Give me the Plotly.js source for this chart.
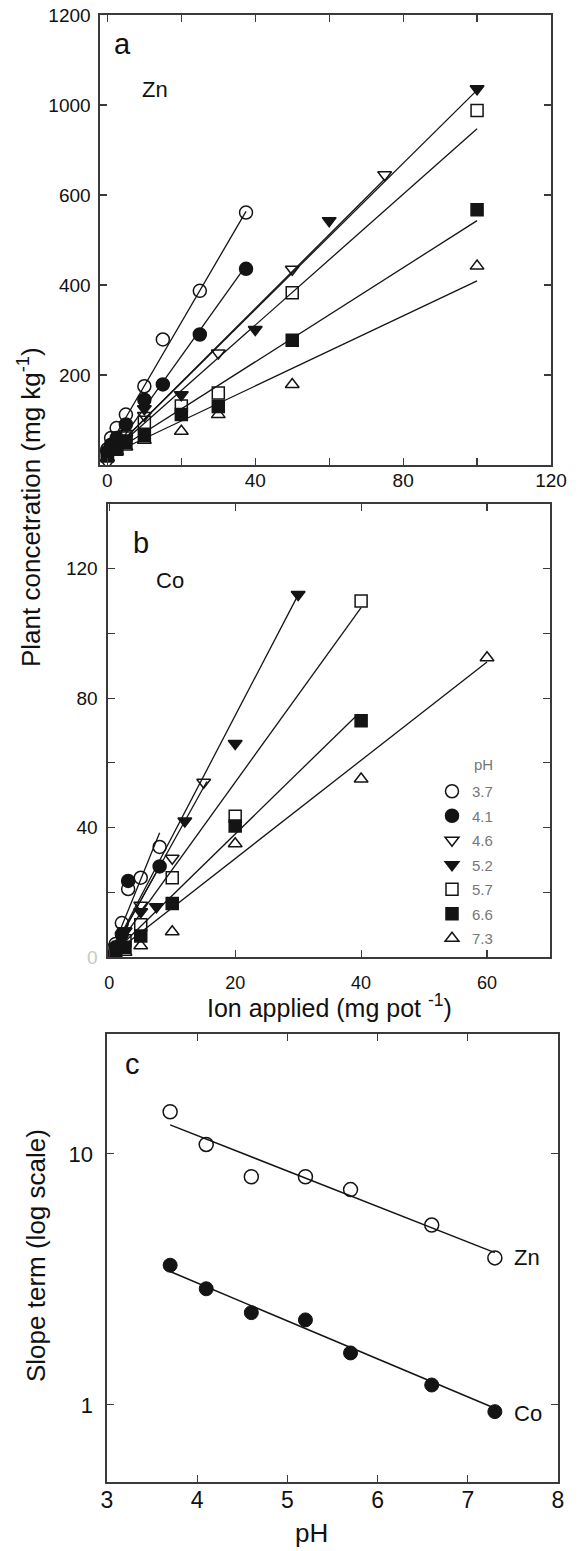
<!DOCTYPE html>
<html><head><meta charset="utf-8">
<script src="https://cdn.plot.ly/plotly-3.0.1.min.js"></script>
<style>html,body{margin:0;padding:0;background:#fff}</style>
</head><body><div id="chart" style="width:582px;height:1551px"></div>
<script>
// ---------- shared ----------
const pHLabels = ['3.7','4.1','4.6','5.2','5.7','6.6','7.3'];
const pHValues = [3.7, 4.1, 4.6, 5.2, 5.7, 6.6, 7.3];
const markerSymbols = ['circle-open','circle','triangle-down-open','triangle-down','square-open','square','triangle-up-open'];

// ---------- panel a : Zn (ion applied, plant concentration) ----------
const znX37 = [0, 1, 2.5, 5, 10, 15, 25, 37.5];
const znY37 = [35, 60, 82, 112, 175, 279, 387, 561];
const znX41 = [0, 1, 2.5, 5, 10, 15, 25, 37.5];
const znY41 = [30, 45, 60, 90, 145, 179, 290, 436];
const znX46 = [0, 2.5, 5, 10, 30, 50, 75];
const znY46 = [5, 40, 70, 110, 249, 435, 645];
const znX52 = [0, 2.5, 5, 10, 20, 40, 60, 100];
const znY52 = [25, 40, 60, 125, 156, 301, 543, 836];
const znX57 = [0, 2.5, 5, 10, 20, 30, 50, 100];
const znY57 = [25, 40, 60, 95, 131, 160, 383, 788];
const znX66 = [0, 2.5, 5, 10, 20, 30, 50, 100];
const znY66 = [20, 35, 50, 65, 112, 130, 277, 567];
const znX73 = [0, 2.5, 5, 10, 20, 30, 50, 100];
const znY73 = [15, 30, 40, 55, 75, 112, 179, 442];
// fitted lines (intercept, slope, last dose)
const znFitIntercept = [35, 12, 20, 20, 20, 20, 20];
const znFitSlope = [14.1, 11.5, 8.2, 8.13, 7.27, 5.23, 3.89];
const znFitXmax = [37.5, 37.5, 75, 100, 100, 100, 100];
const znYTickVals = [200, 400, 600, 800, 1000];
const znYTickText = ['200', '400', '600', '1000', '1200'];
const znXTickVals = [0, 40, 80, 120];
const znXMinorTicks = [20, 60, 100];

// ---------- panel b : Co ----------
const coX37 = [0, 1, 2, 3, 5, 8];
const coY37 = [0, 4, 10.5, 21, 24.5, 34];
const coX41 = [0, 1, 2, 3, 8];
const coY41 = [0, 3, 7, 23.5, 28];
const coX46 = [0, 1, 2.5, 5, 10, 15];
const coY46 = [0, 3, 8, 16, 30.5, 54];
const coX52 = [0, 1, 2.5, 5, 7.5, 12, 20, 30];
const coY52 = [0, 3, 8, 14, 15.5, 42, 66, 112];
const coX57 = [0, 1, 2.5, 5, 10, 20, 40];
const coY57 = [0, 2, 5, 10, 24.5, 43.5, 110];
const coX66 = [0, 1, 2.5, 5, 10, 20, 40];
const coY66 = [0, 1, 3, 6.5, 16.5, 40.5, 73];
const coX73 = [0, 1, 2.5, 5, 10, 20, 40, 60];
const coY73 = [0, 0.5, 1.5, 3.5, 7.8, 35, 55, 92.5];
const coFitIntercept = [0, 0, 0, 0, 0, 0, 0];
const coFitSlope = [4.8, 3.5, 3.5, 3.73, 2.7, 1.9, 1.52];
const coFitXmax = [8, 8.5, 15.5, 30, 40, 39.5, 60];
const coYTickVals = [0, 40, 80, 120];
const coYTickText = ['<span style="color:#c8c8c8">0</span>', '40', '80', '120'];
const coYMinorTicks = [20, 60, 100];
const coXTickVals = [0, 20, 40, 60];

// ---------- panel c : slope term vs pH ----------
const znSlopeTerm = [14.7, 10.9, 8.1, 8.1, 7.2, 5.2, 3.85];
const coSlopeTerm = [3.6, 2.9, 2.33, 2.18, 1.61, 1.2, 0.94];
const znLogFit = {a: 1.638, b: -0.1413};
const coLogFit = {a: 1.0904, b: -0.1512};
const pHFitRange = [3.7, 7.3];

// ---------- figure ----------
const W = 582, H = 1551;
const px = v => v / W, py = v => 1 - v / H;
const INK = '#141414', FRAME = '#3a3a3a';
const FONT = 'Liberation Sans, Arial, sans-serif';

const traces = [];
function addPoints(x, y, i, xa, ya, legend) {
  traces.push({
    type: 'scatter', mode: 'markers', x: x, y: y, xaxis: xa, yaxis: ya,
    name: pHLabels[i], legendgroup: 'g' + i, showlegend: !!legend,
    marker: {symbol: markerSymbols[i], size: markerSymbols[i].indexOf('circle') === 0 ? 13 : 12,
             color: INK, line: {color: INK, width: 1.5}},
    hoverinfo: 'x+y'
  });
}
function addFit(b, m, xmax, xa, ya) {
  traces.push({
    type: 'scatter', mode: 'lines', x: [0, xmax], y: [b, b + m * xmax],
    xaxis: xa, yaxis: ya, showlegend: false, line: {color: INK, width: 1.3}, hoverinfo: 'skip'
  });
}

const znX = [znX37, znX41, znX46, znX52, znX57, znX66, znX73];
const znY = [znY37, znY41, znY46, znY52, znY57, znY66, znY73];
const coX = [coX37, coX41, coX46, coX52, coX57, coX66, coX73];
const coY = [coY37, coY41, coY46, coY52, coY57, coY66, coY73];

for (let i = 0; i < 7; i++) addFit(znFitIntercept[i], znFitSlope[i], znFitXmax[i], 'x', 'y');
for (let i = 0; i < 7; i++) addPoints(znX[i], znY[i], i, 'x', 'y', false);
for (let i = 0; i < 7; i++) addFit(coFitIntercept[i], coFitSlope[i], coFitXmax[i], 'x2', 'y2');
for (let i = 0; i < 7; i++) addPoints(coX[i], coY[i], i, 'x2', 'y2', true);

function logLine(fit) {
  return pHFitRange.map(p => Math.pow(10, fit.a + fit.b * p));
}
traces.push({type: 'scatter', mode: 'lines', x: pHFitRange, y: logLine(znLogFit), xaxis: 'x3', yaxis: 'y3',
  showlegend: false, line: {color: INK, width: 1.5}, hoverinfo: 'skip'});
traces.push({type: 'scatter', mode: 'lines', x: pHFitRange, y: logLine(coLogFit), xaxis: 'x3', yaxis: 'y3',
  showlegend: false, line: {color: INK, width: 1.5}, hoverinfo: 'skip'});
traces.push({type: 'scatter', mode: 'markers', x: pHValues, y: znSlopeTerm, xaxis: 'x3', yaxis: 'y3',
  name: 'Zn', showlegend: false, marker: {symbol: 'circle-open', size: 14, color: INK, line: {color: INK, width: 1.5}}});
traces.push({type: 'scatter', mode: 'markers', x: pHValues, y: coSlopeTerm, xaxis: 'x3', yaxis: 'y3',
  name: 'Co', showlegend: false, marker: {symbol: 'circle', size: 14, color: INK, line: {color: INK, width: 1}}});

const minorBase = {ticks: 'inside', ticklen: 7, tickwidth: 1.2, tickcolor: FRAME, showgrid: false};
function axisBase(extra) {
  return Object.assign({
    showline: true, linecolor: FRAME, linewidth: 1.6, mirror: 'ticks',
    ticks: 'inside', ticklen: 7, tickwidth: 1.2, tickcolor: FRAME,
    showgrid: false, zeroline: false, fixedrange: true,
    tickfont: {family: FONT, size: 19, color: '#111'}
  }, extra);
}

function note(text, x, y, size, extra) {
  return Object.assign({text: text, x: px(x), y: py(y), xref: 'paper', yref: 'paper',
    xanchor: 'center', yanchor: 'middle', showarrow: false,
    font: {family: FONT, size: size, color: '#111'}}, extra || {});
}

const layout = {
  width: W, height: H, margin: {l: 0, r: 0, t: 0, b: 0},
  paper_bgcolor: '#fff', plot_bgcolor: '#fff',
  font: {family: FONT, color: '#111'},
  xaxis: axisBase({domain: [px(100), px(551)], range: [-2, 120], anchor: 'y',
    tickmode: 'array', tickvals: znXTickVals, ticklabelstandoff: -2,
    minor: Object.assign({tickmode: 'array', tickvals: znXMinorTicks}, minorBase)}),
  yaxis: axisBase({domain: [py(465), py(15)], range: [0, 1000], anchor: 'x',
    tickmode: 'array', tickvals: znYTickVals, ticktext: znYTickText, ticklabelstandoff: 4}),
  xaxis2: axisBase({domain: [px(108), px(550)], range: [-0.2, 70], anchor: 'y2',
    tickmode: 'array', tickvals: coXTickVals, ticklabelstandoff: 9, tickfont: {family: FONT, size: 18, color: '#111'}}),
  yaxis2: axisBase({domain: [py(957), py(504)], range: [0, 140], anchor: 'x2',
    tickmode: 'array', tickvals: coYTickVals, ticktext: coYTickText, ticklabelstandoff: 5,
    tickfont: {family: FONT, size: 19, color: '#111'},
    minor: Object.assign({tickmode: 'array', tickvals: coYMinorTicks}, minorBase)}),
  xaxis3: axisBase({domain: [px(107), px(558)], range: [3, 8], anchor: 'y3',
    tickmode: 'array', tickvals: [3, 4, 5, 6, 7, 8], ticklabelstandoff: -3, tickfont: {family: FONT, size: 23, color: '#111'}}),
  yaxis3: axisBase({domain: [py(1482), py(1034)], type: 'log', range: [Math.log10(0.493), Math.log10(30)], anchor: 'x3',
    tickmode: 'array', tickvals: [1, 10], ticktext: ['1', '10'], ticklabelstandoff: 8, tickfont: {family: FONT, size: 22, color: '#111'}}),
  showlegend: true,
  legend: {x: px(432), y: py(775), xanchor: 'left', yanchor: 'top', bgcolor: 'rgba(0,0,0,0)',
    borderwidth: 0, traceorder: 'grouped', tracegroupgap: 2, itemclick: false, itemdoubleclick: false,
    font: {family: FONT, size: 15, color: '#777'}},
  annotations: [
    note('a', 122, 44, 29),
    note('Zn', 155, 90, 22),
    note('b', 141, 543, 29),
    note('Co', 170, 580, 22),
    note('c', 132, 1064, 29),
    note('Zn', 512, 1257, 22, {xanchor: 'left'}),
    note('Co', 512, 1413, 22, {xanchor: 'left'}),
    note('pH', 472, 764, 15, {xanchor: 'left', font: {family: FONT, size: 15, color: '#777'}}),
    note('Plant concetration (mg kg<sup>-1</sup>)', 29, 507, 26, {textangle: -90}),
    note('Ion applied (mg pot <sup>-1</sup>)', 329, 1006, 25),
    note('Slope term (log scale)', 36, 1256, 26, {textangle: -90}),
    note('pH', 311, 1533, 26)
  ]
};

Plotly.newPlot('chart', traces, layout, {displayModeBar: false, staticPlot: true});
</script>
</body></html>
